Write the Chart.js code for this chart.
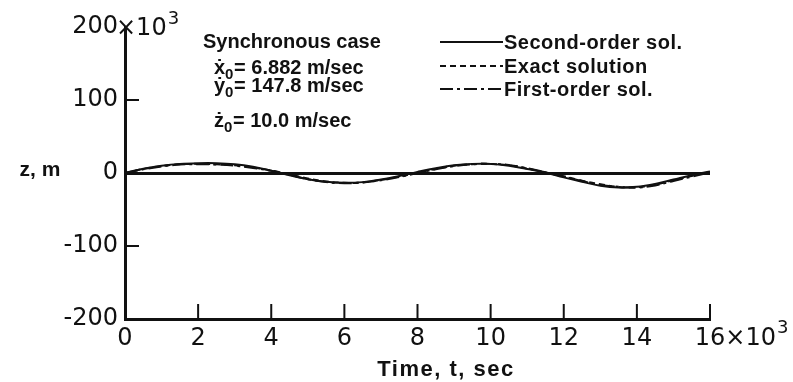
<!DOCTYPE html>
<html>
<head>
<meta charset="utf-8">
<script src="https://cdn.jsdelivr.net/npm/chart.js@4"></script>
<style>
  html, body { margin: 0; padding: 0; background: #fff; }
  #wrap { width: 793px; height: 382px; }
</style>
</head>
<body>
<div id="wrap"><canvas id="zChart" width="793" height="382"></canvas></div>
<script>
// time, thousands of seconds
const times = [0, 0.5, 1, 1.5, 2, 2.5, 3, 3.5, 4, 4.5, 5, 5.5, 6, 6.5, 7, 7.5, 8,
  8.5, 9, 9.5, 10, 10.5, 11, 11.5, 12, 12.5, 13, 13.5, 14, 14.5, 15, 15.5, 16];
// z, thousands of metres
const secondOrder = [0, 6, 10, 12.5, 13.5, 13.5, 12, 8.5, 3, -3, -8.5, -12, -13.5, -12.5, -9, -4, 1.5,
  6.5, 10.5, 12.5, 12.5, 10, 5.5, 0.5, -6, -12, -17.5, -20, -19, -15, -9, -3, 2];
const exactSolution = [0, 5.5, 9.5, 12, 12.5, 12, 10.5, 7.5, 3.5, -2, -7.5, -11.5, -13.5, -13, -9.5, -5, 0.5,
  5.5, 10, 12, 12.5, 10.5, 6, 1, -4.5, -10.5, -15.5, -19, -19.5, -16, -10, -4, 1.5];
const firstOrder = [0, 5, 9, 11.5, 12, 11.5, 10, 7, 3, -2.5, -8.5, -12.5, -14, -13, -10, -5.5, 0,
  5, 9.5, 12, 12.5, 11, 6.5, 1, -5, -11, -16, -19, -20, -17, -11, -5, 1];

const seriesNames = ["Second-order sol.", "Exact solution", "First-order sol."];
const xTickLabels = ["0", "2", "4", "6", "8", "10", "12", "14", "16"];
const yTickLabels = ["-200", "-100", "0", "100", "200"];
const noteLines = ["Synchronous case", "6.882 m/sec", "147.8 m/sec", "10.0 m/sec"];
const noteVars = ["ẋ", "ẏ", "ż"];

const INK = "#111";
const tickFont = { family: "DejaVu Sans, Liberation Sans, sans-serif", size: 24 };
const boldFont = "bold 20px Liberation Sans, DejaVu Sans, sans-serif";
const xPad = 5;
const dashes = [[], [6, 4], [13, 4, 3, 4]];

function pts(ys) {
  return ys.map((y, i) => ({ x: times[i], y: y }));
}

const overlay = {
  id: "overlay",
  afterDraw(chart) {
    const c = chart.ctx;
    const xs = chart.scales.x, ys = chart.scales.y;
    const area = chart.chartArea;
    c.save();
    c.strokeStyle = INK;
    c.fillStyle = INK;

    // inward tick marks
    c.lineWidth = 2;
    xs.ticks.forEach((t) => {
      if (t.value === 0) return;
      const px = xs.getPixelForValue(t.value);
      c.beginPath();
      c.moveTo(px, area.bottom);
      c.lineTo(px, area.bottom - 15);
      c.stroke();
    });
    ys.ticks.forEach((t) => {
      if (Math.abs(t.value) !== 100) return;
      const py = ys.getPixelForValue(t.value);
      c.beginPath();
      c.moveTo(area.left, py);
      c.lineTo(area.left + 14, py);
      c.stroke();
    });

    // x10^3 multipliers
    c.font = tickFont.size + "px " + tickFont.family;
    c.textBaseline = "middle";
    c.textAlign = "left";
    const yTop = ys.getPixelForValue(200) + 2;
    let px = area.left - 9;
    c.fillText("×10", px, yTop);
    let w = c.measureText("×10").width;
    c.font = "18px " + tickFont.family;
    c.fillText("3", px + w + 1, yTop - 10);

    c.font = tickFont.size + "px " + tickFont.family;
    const xy = xs.top + xPad + tickFont.size * 0.6;
    const x16 = xs.getPixelForValue(16);
    const w16 = c.measureText("16").width;
    c.fillText("×10", x16 + w16 / 2, xy);
    w = c.measureText("×10").width;
    c.font = "18px " + tickFont.family;
    c.fillText("3", x16 + w16 / 2 + w + 1, xy - 10);

    // axis titles
    c.font = "bold 22px Liberation Sans, DejaVu Sans, sans-serif";
    c.textAlign = "center";
    c.letterSpacing = "1.5px";
    c.fillText("Time, t, sec", 446, 370);
    c.letterSpacing = "0px";
    c.font = "bold 21px Liberation Sans, DejaVu Sans, sans-serif";
    c.fillText("z, m", 40, 170);

    // note block
    c.textAlign = "left";
    c.textBaseline = "alphabetic";
    c.font = boldFont;
    c.fillText(noteLines[0], 203, 48);
    const noteY = [74, 92, 127];
    for (let i = 0; i < 3; i++) {
      const bx = 214;
      c.font = boldFont;
      c.fillText(noteVars[i], bx, noteY[i]);
      const vw = c.measureText(noteVars[i]).width;
      c.font = "bold 15px Liberation Sans, DejaVu Sans, sans-serif";
      c.fillText("0", bx + vw, noteY[i] + 5);
      c.font = boldFont;
      c.fillText("= " + noteLines[i + 1], bx + vw + 9, noteY[i]);
    }

    // legend
    const legY = [42, 66, 89];
    c.lineWidth = 2;
    c.font = boldFont;
    c.letterSpacing = "0.5px";
    for (let i = 0; i < 3; i++) {
      c.setLineDash(dashes[i]);
      c.beginPath();
      c.moveTo(440, legY[i]);
      c.lineTo(503, legY[i]);
      c.stroke();
      c.setLineDash([]);
      c.textBaseline = "middle";
      c.fillText(seriesNames[i], 504, legY[i] + 1);
    }
    c.restore();
  }
};

new Chart(document.getElementById("zChart"), {
  type: "line",
  data: {
    datasets: [
      { label: seriesNames[0], data: pts(secondOrder), borderColor: INK, borderWidth: 2, borderDash: dashes[0] },
      { label: seriesNames[1], data: pts(exactSolution), borderColor: INK, borderWidth: 2, borderDash: dashes[1] },
      { label: seriesNames[2], data: pts(firstOrder), borderColor: INK, borderWidth: 2, borderDash: dashes[2] }
    ]
  },
  options: {
    responsive: false,
    animation: false,
    layout: { padding: { left: 0, top: 27, right: 83, bottom: 0 } },
    elements: { point: { radius: 0 }, line: { tension: 0.4, fill: false } },
    plugins: { legend: { display: false }, tooltip: { enabled: false } },
    scales: {
      x: {
        type: "linear",
        min: 0, max: 16,
        afterFit: (s) => { s.height = 63; },
        afterBuildTicks: (s) => { s.ticks = xTickLabels.map((l) => ({ value: Number(l) })); },
        ticks: {
          color: INK, font: tickFont, padding: xPad, maxRotation: 0,
          callback: (v, i) => xTickLabels[i]
        },
        grid: { display: false, drawTicks: false },
        border: { display: true, color: INK, width: 3 }
      },
      y: {
        min: -200, max: 200,
        afterFit: (s) => { s.width = 125; },
        afterBuildTicks: (s) => { s.ticks = yTickLabels.map((l) => ({ value: Number(l) })); },
        ticks: {
          color: INK, font: tickFont, padding: 7,
          callback: (v, i) => yTickLabels[i]
        },
        grid: {
          drawTicks: false,
          lineWidth: 3,
          color: (ctx) => (ctx.tick && ctx.tick.value === 0 ? INK : "rgba(0,0,0,0)")
        },
        border: { display: true, color: INK, width: 3 }
      }
    }
  },
  plugins: [overlay]
});
</script>
</body>
</html>
